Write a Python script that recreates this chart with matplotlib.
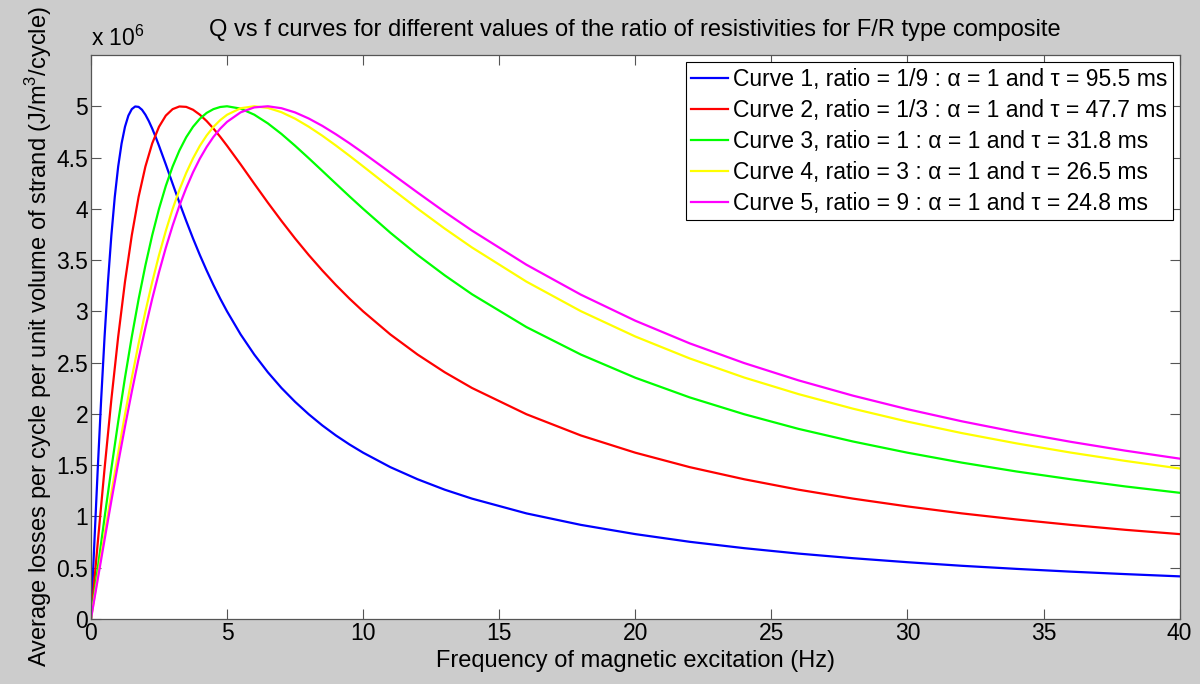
import matplotlib.pyplot as plt

plt.rcParams['font.family'] = ['Liberation Sans', 'DejaVu Sans']

# frequency (Hz) and losses (x 1e6 J/m^3/cycle)
freq = [0, 0.25, 0.5, 0.75, 1.0, 1.25, 1.5, 1.75, 2.0, 2.25, 2.5, 2.75, 3.0, 3.25,
        3.5, 3.75, 4.0, 4.25, 4.5, 4.75, 5.0, 5.5, 6.0, 6.5, 7.0, 7.5, 8.0, 8.5,
        9.0, 9.5, 10, 11, 12, 13, 14, 16, 18, 20, 22, 24, 26, 28, 30, 32, 34,
        36, 38, 40]
# curve 1 has a sharp peak, so it gets a finer grid below 2.5 Hz
freq1 = [0, 0.125, 0.25, 0.375, 0.5, 0.625, 0.75, 0.875, 1.0, 1.125, 1.25, 1.375,
         1.5, 1.625, 1.75, 1.875, 2.0, 2.125, 2.25, 2.375, 2.5] + freq[11:]

curve1 = [0, 0.746, 1.467, 2.142, 2.752, 3.288, 3.742, 4.116, 4.412, 4.637, 4.800,
          4.909, 4.972, 4.998, 4.994, 4.966, 4.918, 4.856, 4.783, 4.702, 4.615,
          4.433, 4.245, 4.060, 3.882, 3.711, 3.550, 3.399, 3.257, 3.124, 3.000,
          2.775, 2.579, 2.406, 2.253, 2.118, 1.997, 1.888, 1.790, 1.702, 1.622,
          1.481, 1.363, 1.261, 1.174, 1.030, 0.918, 0.828, 0.753, 0.691, 0.638,
          0.593, 0.554, 0.519, 0.489, 0.462, 0.438, 0.416]
curve2 = [0, 0.746, 1.467, 2.142, 2.752, 3.288, 3.742, 4.116, 4.412, 4.637, 4.800,
          4.909, 4.972, 4.998, 4.994, 4.966, 4.918, 4.856, 4.783, 4.702, 4.615,
          4.433, 4.245, 4.060, 3.882, 3.711, 3.550, 3.399, 3.257, 3.124, 3.000,
          2.775, 2.579, 2.406, 2.253, 1.997, 1.790, 1.622, 1.481, 1.363, 1.261,
          1.174, 1.098, 1.030, 0.971, 0.918, 0.870, 0.828]
curve3 = [0, 0.499, 0.990, 1.467, 1.923, 2.353, 2.752, 3.118, 3.448, 3.742, 4.000,
          4.223, 4.412, 4.569, 4.698, 4.800, 4.878, 4.935, 4.972, 4.993, 5.000,
          4.977, 4.918, 4.833, 4.730, 4.615, 4.494, 4.370, 4.245, 4.121, 4.000,
          3.767, 3.550, 3.351, 3.167, 2.847, 2.579, 2.353, 2.161, 1.997, 1.854,
          1.731, 1.622, 1.525, 1.439, 1.363, 1.293, 1.231]
curve4 = [0, 0.416, 0.827, 1.230, 1.620, 1.995, 2.351, 2.686, 2.998, 3.285, 3.548,
          3.785, 3.998, 4.186, 4.350, 4.492, 4.614, 4.715, 4.799, 4.865, 4.917,
          4.981, 5.000, 4.984, 4.942, 4.879, 4.801, 4.713, 4.617, 4.517, 4.414,
          4.206, 4.002, 3.807, 3.623, 3.290, 3.002, 2.755, 2.541, 2.355, 2.193,
          2.051, 1.925, 1.813, 1.713, 1.623, 1.542, 1.468]
curve5 = [0, 0.389, 0.774, 1.153, 1.521, 1.877, 2.216, 2.538, 2.840, 3.122, 3.382,
          3.620, 3.836, 4.031, 4.203, 4.356, 4.489, 4.603, 4.701, 4.782, 4.848,
          4.941, 4.989, 5.000, 4.981, 4.940, 4.881, 4.809, 4.727, 4.639, 4.546,
          4.353, 4.159, 3.969, 3.788, 3.455, 3.163, 2.909, 2.688, 2.496, 2.327,
          2.178, 2.046, 1.928, 1.823, 1.728, 1.642, 1.564]

labels = [
    'Curve 1, ratio = 1/9 : α = 1 and τ = 95.5 ms',
    'Curve 2, ratio = 1/3 : α = 1 and τ = 47.7 ms',
    'Curve 3, ratio = 1 : α = 1 and τ = 31.8 ms',
    'Curve 4, ratio = 3 : α = 1 and τ = 26.5 ms',
    'Curve 5, ratio = 9 : α = 1 and τ = 24.8 ms',
]
colors = ['#0000ff', '#ff0000', '#00ff00', '#ffff00', '#ff00ff']

plt.rcParams['mathtext.fontset'] = 'custom'
plt.rcParams['mathtext.rm'] = 'Liberation Sans'

fig = plt.figure(figsize=(12, 6.84), dpi=100, facecolor='#cccccc')
ax = fig.add_axes([0.0758, 0.095, 0.9072, 0.8246])

xs = [freq1, freq, freq, freq, freq]
ys = [curve1, curve2, curve3, curve4, curve5]
for x, y, c, lab in zip(xs, ys, colors, labels):
    ax.plot(x, y, color=c, linewidth=1.6, label=lab)

ax.set_xlim(0, 40)
ax.set_ylim(0, 5.5)
ax.set_xticks(range(0, 41, 5))
ax.set_yticks([i * 0.5 for i in range(11)])
ax.set_yticklabels(['0', '0.5', '1', '1.5', '2', '2.5', '3', '3.5', '4', '4.5', '5'])
ax.tick_params(direction='in', length=7, width=0.8, color='#555555',
               labelsize=16.5, top=True, right=True, pad=2)
for sp in ax.spines.values():
    sp.set_color('#555555')
    sp.set_linewidth(0.9)

ax.set_title('Q vs f curves for different values of the ratio of resistivities for F/R type composite',
             fontsize=17, pad=14)
ax.set_xlabel('Frequency of magnetic excitation (Hz)', fontsize=17, labelpad=4)
ax.set_ylabel('Average losses per cycle per unit volume of strand (J/m$^3$/cycle)',
              fontsize=17, labelpad=2)
ax.text(0, 1.008, r'x 10$^6$', transform=ax.transAxes, fontsize=16.5,
        ha='left', va='bottom')

leg = ax.legend(loc='upper right', fontsize=16.5, fancybox=False, framealpha=1,
                edgecolor='black', handlelength=1.6, handletextpad=0.2,
                labelspacing=0.35, borderpad=0.25, borderaxespad=0.3)
leg.get_frame().set_linewidth(0.8)

fig.savefig('out.png', dpi=100, facecolor=fig.get_facecolor())
